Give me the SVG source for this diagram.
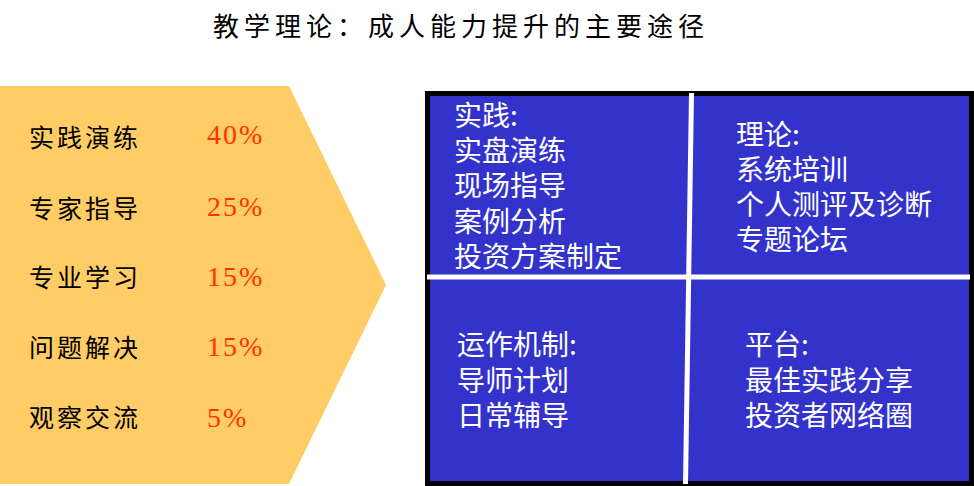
<svg xmlns="http://www.w3.org/2000/svg" width="974" height="486" viewBox="0 0 974 486">
<style>
.title{font-family:"Noto Sans CJK SC",sans-serif;font-size:26px;letter-spacing:5px;fill:#000}
.item{font-family:"Noto Sans CJK SC",sans-serif;font-size:25px;letter-spacing:3px;fill:#000}
.pct{font-family:"Liberation Serif","Times New Roman",serif;font-size:28px;letter-spacing:2px;fill:#FF3300}
.wt{font-family:"Noto Sans CJK SC",sans-serif;font-size:28px;fill:#fff}
.div{stroke:#fff;stroke-width:5;fill:none}
</style>
<rect width="974" height="486" fill="#fff"/>
<g id="title"><text class="title" x="213" y="36">教学理论：成人能力提升的主要途径</text></g>
<g id="arrow">
<polygon points="0,86 289,86 386,285 289,484 0,484" fill="#FFCC66"/>
<text class="item" x="29" y="147">实践演练</text><text class="pct" x="207" y="144">40%</text>
<text class="item" x="29" y="218">专家指导</text><text class="pct" x="207" y="216">25%</text>
<text class="item" x="29" y="287">专业学习</text><text class="pct" x="207" y="286">15%</text>
<text class="item" x="29" y="357">问题解决</text><text class="pct" x="207" y="356">15%</text>
<text class="item" x="29" y="427">观察交流</text><text class="pct" x="207" y="427">5%</text>
</g>
<g id="matrix">
<rect x="425" y="91" width="549" height="395" fill="#000"/>
<rect x="430" y="96" width="539" height="385" fill="#3333CC"/>
</g>
<g id="dividers">
<line class="div" x1="427" y1="277" x2="970" y2="277"/>
<line class="div" x1="691.5" y1="93" x2="685.5" y2="484"/>
</g>
<g id="practice">
<text class="wt" x="454" y="126"><tspan x="454" y="126">实践:</tspan><tspan x="454" y="161">实盘演练</tspan><tspan x="454" y="196">现场指导</tspan><tspan x="454" y="232">案例分析</tspan><tspan x="454" y="267">投资方案制定</tspan></text>
</g>
<g id="theory">
<text class="wt" x="736" y="145"><tspan x="736" y="145">理论:</tspan><tspan x="736" y="180">系统培训</tspan><tspan x="736" y="215">个人测评及诊断</tspan><tspan x="736" y="250">专题论坛</tspan></text>
</g>
<g id="mechanism">
<text class="wt" x="457" y="355"><tspan x="457" y="355">运作机制:</tspan><tspan x="457" y="391">导师计划</tspan><tspan x="457" y="426">日常辅导</tspan></text>
</g>
<g id="platform">
<text class="wt" x="745" y="355"><tspan x="745" y="355">平台:</tspan><tspan x="745" y="391">最佳实践分享</tspan><tspan x="745" y="426">投资者网络圈</tspan></text>
</g>
</svg>
